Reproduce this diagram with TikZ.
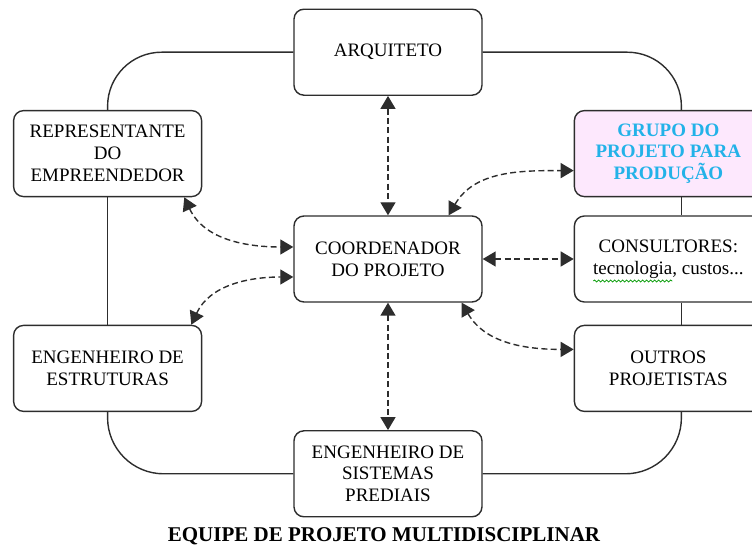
\documentclass[tikz,border=0pt]{standalone}
\usepackage{fontspec}
\setmainfont{Liberation Serif}
\usetikzlibrary{matrix, arrows.meta, positioning, decorations.pathmorphing}

\definecolor{grupofill}{RGB}{253,232,253}
\definecolor{grupotext}{RGB}{35,178,232}
\definecolor{linecol}{RGB}{45,45,45}

\begin{document}
\begin{tikzpicture} [
  box/.style = {draw=linecol, line width=0.7pt, rounded corners=5pt, minimum width=94pt, minimum height=43pt, inner sep=2pt, align=center, font=\fontsize{9.5}{10.9}\selectfont},
  grupo/.style = {box, fill=grupofill, text=grupotext, font=\fontsize{9.5}{10.9}\selectfont\bfseries},
  link/.style = {draw=linecol, line width=0.7pt},
  seta/.style = {link, dash pattern=on 3pt off 1.7pt, {Triangle[length=6.5pt,width=7.5pt]}-{Triangle[length=6.5pt,width=7.5pt]}}
]
\useasboundingbox (-194pt,-141.5pt) rectangle (182pt,131.5pt);
\matrix (m) [column sep = 45.5pt, row sep = 9pt]{
& \node[box](a){ARQUITETO}; & \\[-2pt]
\node[box](r){REPRESENTANTE\\DO\\EMPREENDEDOR}; & & \node[grupo](g){GRUPO DO\\PROJETO PARA\\PRODUÇÃO}; \\
& \node[box](co){COORDENADOR\\DO PROJETO}; & \node[box](c){CONSULTORES:\\tecnologia, custos...}; \\[2pt]
\node[box](e){ENGENHEIRO DE\\ESTRUTURAS}; & & \node[box](o){OUTROS\\PROJETISTAS}; \\
& \node[box](s){ENGENHEIRO DE\\SISTEMAS\\PREDIAIS}; & \\
};
\draw[link, rounded corners=27pt] (a.west) -| (r.north);
\draw[link] (r.south) -- (e.north);
\draw[link, rounded corners=28pt] (e.south) |- (s.west);
\draw[link, rounded corners=27pt] (a.east) -| ([xshift=6.5pt]g.north);
\draw[link] ([xshift=6.5pt]g.south) -- ([xshift=6.5pt]c.north);
\draw[link] ([xshift=6.5pt]c.south) -- ([xshift=6.5pt]o.north);
\draw[link, rounded corners=28pt] ([xshift=6.5pt]o.south) |- (s.east);
\draw[seta] (a) -- (co);
\draw[seta] (co) -- (s);
\draw[seta] (co) -- (c);
\draw[seta] ([xshift=-9pt]r.south east) to[out=-65, in=180] ([yshift=6pt]co.west);
\draw[seta] ([xshift=-5.5pt]e.north east) to[out=65, in=180] ([yshift=-9pt]co.west);
\draw[seta] ([xshift=-17pt]co.north east) to[out=60, in=180] ([yshift=-8.5pt]g.west);
\draw[seta] ([xshift=-10.5pt]co.south east) to[out=-60, in=180] ([yshift=9.5pt]o.west);
\draw[green!60!black, line width=0.4pt, decorate, decoration={snake, amplitude=0.5pt, segment length=2pt}] ([shift={(-37.5pt,-11pt)}]c.center) -- ([shift={(2pt,-11pt)}]c.center);
\node[below=5pt of s, xshift=-2pt, inner sep=0pt, font=\fontsize{10.5}{12}\selectfont\bfseries] (t) {EQUIPE DE PROJETO MULTIDISCIPLINAR};
\end{tikzpicture}
\end{document}
